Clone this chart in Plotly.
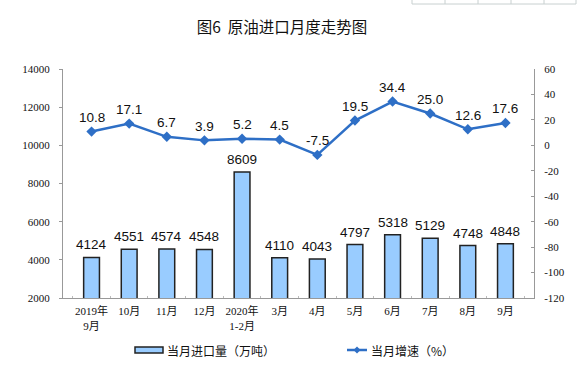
import plotly.graph_objects as go

categories = ["2019年<br>9月", "10月", "11月", "12月", "2020年<br>1-2月", "3月", "4月", "5月", "6月", "7月", "8月", "9月"]
imports = [4124, 4551, 4574, 4548, 8609, 4110, 4043, 4797, 5318, 5129, 4748, 4848]
growth = [10.8, 17.1, 6.7, 3.9, 5.2, 4.5, -7.5, 19.5, 34.4, 25.0, 12.6, 17.6]
left_ticks = [2000, 4000, 6000, 8000, 10000, 12000, 14000]
right_ticks = [-120, -100, -80, -60, -40, -20, 0, 20, 40, 60]
bar_name = "当月进口量（万吨）"
line_name = "当月增速（%）"

serif = "Liberation Serif, Noto Sans CJK SC"
sans = "Liberation Sans, Arial, sans-serif"
cjk = "Noto Sans CJK SC"
BLUE = "#2E6FC6"
BARFILL = "#99CCFF"
W, H = 586, 368
OFF = 0  # body margin removed via post_script
L, R, T, B = 63, 52, 69, 70
PW, PH = W - L - R, H - T - B


def px(xp):
    return (xp - OFF - L) / PW


def py(yp):
    return ((H - B) - (yp - OFF)) / PH


fig = go.Figure()
fig.add_trace(go.Bar(
    x=categories, y=imports, name=bar_name,
    marker=dict(color=BARFILL, line=dict(color="#222222", width=1.5)),
    yaxis="y", showlegend=False,
))
fig.add_trace(go.Scatter(
    x=categories, y=growth, name=line_name, mode="lines+markers",
    line=dict(color=BLUE, width=2.5),
    marker=dict(symbol="diamond", size=8, color=BLUE),
    yaxis="y2", cliponaxis=False, showlegend=False,
))

annotations = []
for c, v in zip(categories, imports):
    annotations.append(dict(x=c, y=v, xref="x", yref="y", text=str(v), showarrow=False,
                            yanchor="middle", yshift=12.5,
                            font=dict(family=sans, size=13.5, color="#111111")))
for c, v in zip(categories, growth):
    annotations.append(dict(x=c, y=v, xref="x", yref="y2", text=f"{v:.1f}", showarrow=False,
                            yanchor="middle", yshift=14,
                            font=dict(family=sans, size=13.5, color="#111111")))

# custom legend
ly = 350
annotations.append(dict(x=px(165), y=py(ly), xref="paper", yref="paper", text=bar_name,
                        showarrow=False, xanchor="left", yanchor="middle",
                        font=dict(family=cjk, size=12, color="#111111")))
annotations.append(dict(x=px(369), y=py(ly), xref="paper", yref="paper", text=line_name,
                        showarrow=False, xanchor="left", yanchor="middle",
                        font=dict(family=cjk, size=12, color="#111111")))

shapes = [
    dict(type="rect", xref="paper", yref="paper", x0=px(135), x1=px(163), y0=py(ly + 3), y1=py(ly - 3),
         fillcolor=BARFILL, line=dict(color="#222222", width=1.5)),
    dict(type="line", xref="paper", yref="paper", x0=px(347), x1=px(367), y0=py(ly), y1=py(ly),
         line=dict(color=BLUE, width=2.5)),
    dict(type="path", xref="paper", yref="paper",
         path=f"M {px(357)},{py(ly - 3.5)} L {px(360.5)},{py(ly)} L {px(357)},{py(ly + 3.5)} L {px(353.5)},{py(ly)} Z",
         fillcolor=BLUE, line=dict(color=BLUE, width=0)),
]
# cropped table border fragment at the top right of the picture
GRID = "#C8D0D0"
shapes.append(dict(type="line", xref="paper", yref="paper", x0=px(412), x1=px(576), y0=py(4), y1=py(4),
                   line=dict(color=GRID, width=1)))
for gx in [412, 445, 478, 511, 544, 576]:
    shapes.append(dict(type="line", xref="paper", yref="paper", x0=px(gx), x1=px(gx), y0=py(0), y1=py(4),
                       line=dict(color=GRID, width=1)))

fig.update_layout(
    width=W, height=H,
    margin=dict(l=L, r=R, t=T, b=B, autoexpand=False),
    paper_bgcolor="white", plot_bgcolor="white",
    title=dict(text="图6  原油进口月度走势图", x=(282 - OFF) / W, xanchor="center",
               y=1 - (28 - OFF) / H, yanchor="middle",
               font=dict(family=cjk, size=15.5, color="#111111")),
    bargap=0.58,
    showlegend=False,
    annotations=annotations,
    shapes=shapes,
    xaxis=dict(type="category", showline=True, linecolor="#999999", linewidth=1,
               ticks="inside", tickson="boundaries", ticklen=2, tickcolor="#BBBBBB",
               tickangle=0, automargin=False, ticklabelstandoff=3,
               tickfont=dict(family=serif, size=11, color="#111111"), showgrid=False),
    yaxis=dict(range=[2000, 14000], tickvals=left_ticks, ticktext=[str(v) for v in left_ticks],
               showline=True, linecolor="#999999", automargin=False, ticklabelstandoff=7,
               ticks="outside", ticklen=3, tickcolor="#999999", showgrid=False, zeroline=False,
               tickfont=dict(family=serif, size=11, color="#111111")),
    yaxis2=dict(range=[-120, 60], tickvals=right_ticks, ticktext=[str(v) for v in right_ticks],
                overlaying="y", side="right", automargin=False, ticklabelstandoff=7,
                showline=True, linecolor="#999999", ticks="inside", ticklen=3, tickcolor="#999999",
                showgrid=False, zeroline=False,
                tickfont=dict(family=serif, size=11, color="#111111")),
)

fig.write_html("out.html", config={"displayModeBar": False},
               post_script="document.body.style.margin='0';document.body.style.overflow='hidden';")
